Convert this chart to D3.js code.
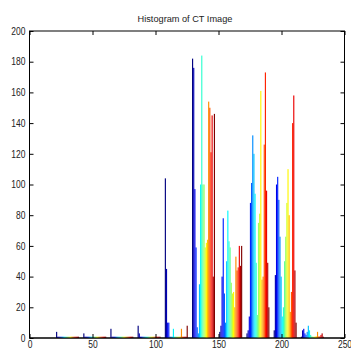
<!DOCTYPE html>
<html>
<head>
<meta charset="utf-8">
<script src="https://cdn.jsdelivr.net/npm/d3@7"></script>
<style>
  body { margin: 0; background: #fff; }
  text { font-family: "Liberation Sans", Arial, sans-serif; fill: #222; }
</style>
</head>
<body>
<svg id="chart" width="351" height="353"></svg>
<script>
// hist() of an image matrix: 10 bins, one bar per column group (20 groups, jet colours)
const binCenters = [30.2, 51.8, 73.3, 94.9, 116.5, 138.1, 159.7, 181.3, 202.9, 224.5];
const binWidth = 21.59;
const counts = [
  [4, 0, 0, 0, 0, 0, 0, 0, 0, 0, 0, 0, 0, 0, 0, 0, 0, 0, 0, 0],
  [3, 0, 0, 0, 0, 0, 0, 0, 0, 0, 0, 0, 0, 0, 0, 0, 0, 0, 0, 0],
  [6, 0, 0, 0, 0, 0, 0, 0, 0, 0, 0, 0, 0, 0, 0, 0, 0, 0, 0, 0],
  [8, 3, 0, 0, 0, 0, 0, 0, 0, 0, 0, 0, 0, 0, 0, 0, 0, 0, 0, 0],
  [104, 45, 10, 10, 0, 0, 0, 6, 0, 0, 0, 0, 0, 0, 6, 0, 0, 0, 0, 8],
  [182, 176, 97, 59, 7, 3, 35, 100, 184, 100, 100, 59, 62, 64, 154, 150, 121, 145, 40, 146],
  [4, 8, 40, 78, 29, 10, 50, 83, 63, 59, 36, 29, 30, 20, 53, 44, 46, 60, 47, 60],
  [3, 5, 14, 88, 101, 132, 120, 94, 49, 15, 75, 81, 161, 38, 40, 126, 173, 96, 49, 20],
  [5, 41, 100, 105, 90, 66, 40, 14, 20, 50, 66, 88, 110, 80, 17, 30, 140, 158, 44, 10],
  [0, 5, 6, 3, 2, 4, 8, 5, 2, 1, 0, 0, 1, 1, 4, 1, 1, 2, 3, 0]
];
const xTicks = [0, 50, 100, 150, 200, 250];
const yTicks = [0, 20, 40, 60, 80, 100, 120, 140, 160, 180, 200];
const title = 'Histogram of CT Image';

const width = 351, height = 353;
const margin = { top: 31, right: 6.5, bottom: 15, left: 29.5 };
const nSeries = counts[0].length;

const svg = d3.select('#chart');
svg.append('rect').attr('width', width).attr('height', height).attr('fill', '#fff');

const x = d3.scaleLinear().domain([0, 250]).range([margin.left, width - margin.right]);
const y = d3.scaleLinear().domain([0, 200]).range([height - margin.bottom, margin.top]);

const groupW = binWidth * 0.845;
const inner = d3.scaleBand().domain(d3.range(nSeries)).range([0, x(groupW) - x(0)]).padding(0);

function jet(t) {
  const c = v => Math.max(0, Math.min(1, v));
  return d3.rgb(255 * c(1.5 - Math.abs(4 * t - 3)),
                255 * c(1.5 - Math.abs(4 * t - 2)),
                255 * c(1.5 - Math.abs(4 * t - 1))).formatHex();
}
const color = i => jet(i / (nSeries - 1));

// bottom frame line first, bars sit on it
svg.append('line')
  .attr('x1', x(0)).attr('x2', x(250))
  .attr('y1', y(0)).attr('y2', y(0))
  .attr('stroke', '#000');

const bars = [];
counts.forEach((row, k) => row.forEach((v, i) => bars.push({ k, i, v })));

svg.append('g').selectAll('rect')
  .data(bars)
  .enter()
  .append('rect')
  .attr('x', d => x(binCenters[d.k] - groupW / 2) + inner(d.i))
  .attr('width', inner.bandwidth())
  .attr('y', d => Math.min(y(d.v), y(0) - 1.3))
  .attr('height', d => y(0) - Math.min(y(d.v), y(0) - 1.3))
  .attr('fill', d => color(d.i));

// axes, ticks pointing inward like matlab
const gx = svg.append('g')
  .attr('transform', `translate(0, ${y(0)})`)
  .call(d3.axisBottom(x).tickValues(xTicks).tickSize(-4).tickSizeOuter(0).tickPadding(2));
const gy = svg.append('g')
  .attr('transform', `translate(${x(0)}, 0)`)
  .call(d3.axisLeft(y).tickValues(yTicks).tickSize(-4).tickSizeOuter(0).tickPadding(4));
svg.append('g')
  .attr('transform', `translate(0, ${y(200)})`)
  .call(d3.axisTop(x).tickValues(xTicks).tickSize(-4).tickSizeOuter(0).tickFormat(''));
svg.append('g')
  .attr('transform', `translate(${x(250)}, 0)`)
  .call(d3.axisRight(y).tickValues(yTicks).tickSize(-4).tickSizeOuter(0).tickFormat(''));

svg.selectAll('.domain').remove();
svg.selectAll('.tick line').attr('stroke', '#000');
svg.selectAll('.tick text')
  .attr('font-size', 8.5)
  .attr('transform', 'scale(1,1.2)');

svg.append('rect')
  .attr('x', x(0)).attr('y', y(200))
  .attr('width', x(250) - x(0)).attr('height', y(0) - y(200))
  .attr('fill', 'none').attr('stroke', '#000');

svg.append('text')
  .attr('x', 185).attr('y', 21.5)
  .attr('text-anchor', 'middle')
  .attr('font-size', 9.2)
  .text(title);
</script>
</body>
</html>
